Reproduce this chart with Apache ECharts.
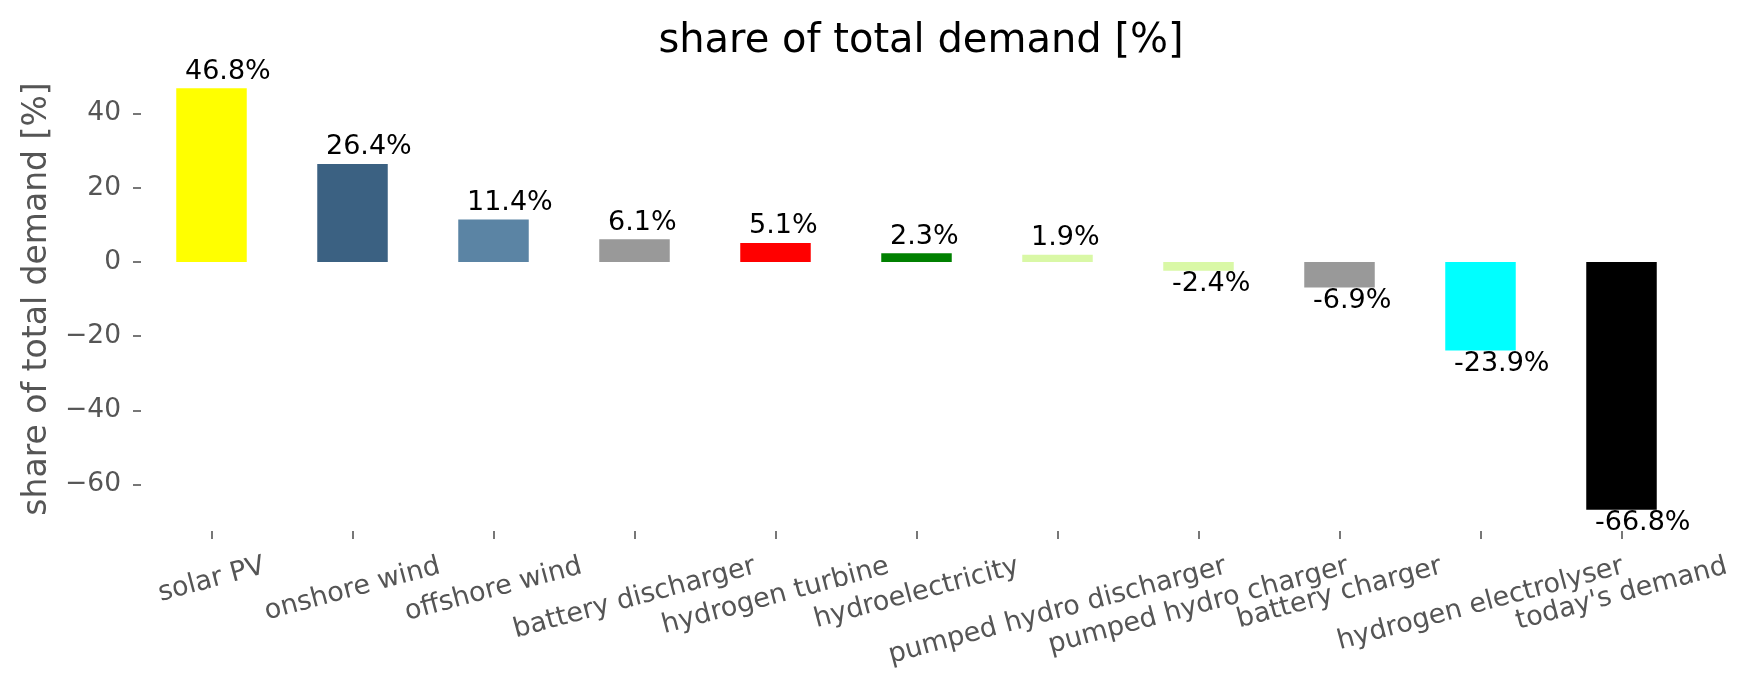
<!DOCTYPE html>
<html>
<head>
<meta charset="utf-8">
<script src="https://cdn.jsdelivr.net/npm/echarts@6/dist/echarts.min.js"></script>
<style>
html,body{margin:0;padding:0;background:#fff;}
#chart{width:1753px;height:689px;}
</style>
</head>
<body>
<div id="chart"></div>
<script>
const categories = ['solar PV', 'onshore wind', 'offshore wind', 'battery discharger', 'hydrogen turbine', 'hydroelectricity', 'pumped hydro discharger', 'pumped hydro charger', 'battery charger', 'hydrogen electrolyser', "today's demand"];
const shares = [46.8, 26.4, 11.4, 6.1, 5.1, 2.3, 1.9, -2.4, -6.9, -23.9, -66.8];
const barColors = ['#ffff00', '#3b6182', '#5b84a4', '#999999', '#ff0000', '#008000', '#d9f8a6', '#d9f8a6', '#999999', '#00ffff', '#000000'];
const yTicks = [-60, -40, -20, 0, 20, 40];
const yRange = [-72.5, 52.5];

const FONT = 'DejaVu Sans';
const TICK_FS = 27;
const ROT = 15;
const th = ROT * Math.PI / 180;

// rotated labels placed like matplotlib: bounding box top-center at the tick
const cvs = document.createElement('canvas');
const ctx = cvs.getContext('2d');
ctx.font = TICK_FS + 'px "' + FONT + '"';
const labelRich = {};
categories.forEach((c, i) => {
  const w = ctx.measureText(c).width;
  const s = 0.1294 * w;            // extra downward shift on screen
  const b = s * Math.cos(th), a = s * Math.sin(th);
  labelRich['c' + i] = {
    fontFamily: FONT, fontSize: TICK_FS, color: '#555555',
    padding: [2 * b, 2 * a, 0, 0]
  };
});

const barData = shares.map((v, i) => ({
  value: v,
  itemStyle: { color: barColors[i] },
  label: { distance: v >= 0 ? 3 : 0 }
}));

const chart = echarts.init(document.getElementById('chart'), null, { renderer: 'canvas' });
chart.setOption({
  backgroundColor: '#ffffff',
  animation: false,
  textStyle: { fontFamily: FONT },
  title: {
    text: 'share of total demand [%]',
    left: 916, textAlign: 'center', top: 17,
    textStyle: { fontFamily: FONT, fontSize: 40, fontWeight: 'normal', color: '#000' }
  },
  grid: { left: 141, right: 61, top: 67, bottom: 158, containLabel: false },
  xAxis: {
    type: 'category',
    data: categories,
    boundaryGap: true,
    axisLine: { show: false, onZero: false },
    axisTick: { show: true, alignWithLabel: true, length: 8, lineStyle: { color: '#555555', width: 1.6 } },
    axisLabel: {
      interval: 0, rotate: ROT, margin: 35, align: 'center', verticalAlign: 'middle',
      fontFamily: FONT, fontSize: TICK_FS, color: '#555555',
      formatter: (v, i) => '{c' + i + '|' + v + '}',
      rich: labelRich
    },
    splitLine: { show: false }
  },
  yAxis: {
    type: 'value',
    min: yRange[0], max: yRange[1],
    name: 'share of total demand [%]',
    nameLocation: 'middle', nameGap: 86,
    nameTextStyle: { fontFamily: FONT, fontSize: 33, color: '#555555' },
    axisLine: { show: false },
    axisTick: { show: true, length: 8, customValues: yTicks, lineStyle: { color: '#555555', width: 1.6 } },
    axisLabel: {
      customValues: yTicks, margin: 20,
      fontFamily: FONT, fontSize: 26.5, color: '#555555',
      formatter: v => String(v).replace('-', '\u2212')
    },
    splitLine: { show: false }
  },
  series: [{
    type: 'bar',
    data: barData,
    barWidth: '50%',
    label: {
      show: true, position: 'outside', align: 'left', offset: [-26.5, 0],
      fontFamily: FONT, fontSize: 27, color: '#000000',
      formatter: p => p.value.toFixed(1) + '%'
    }
  }]
});
</script>
</body>
</html>
